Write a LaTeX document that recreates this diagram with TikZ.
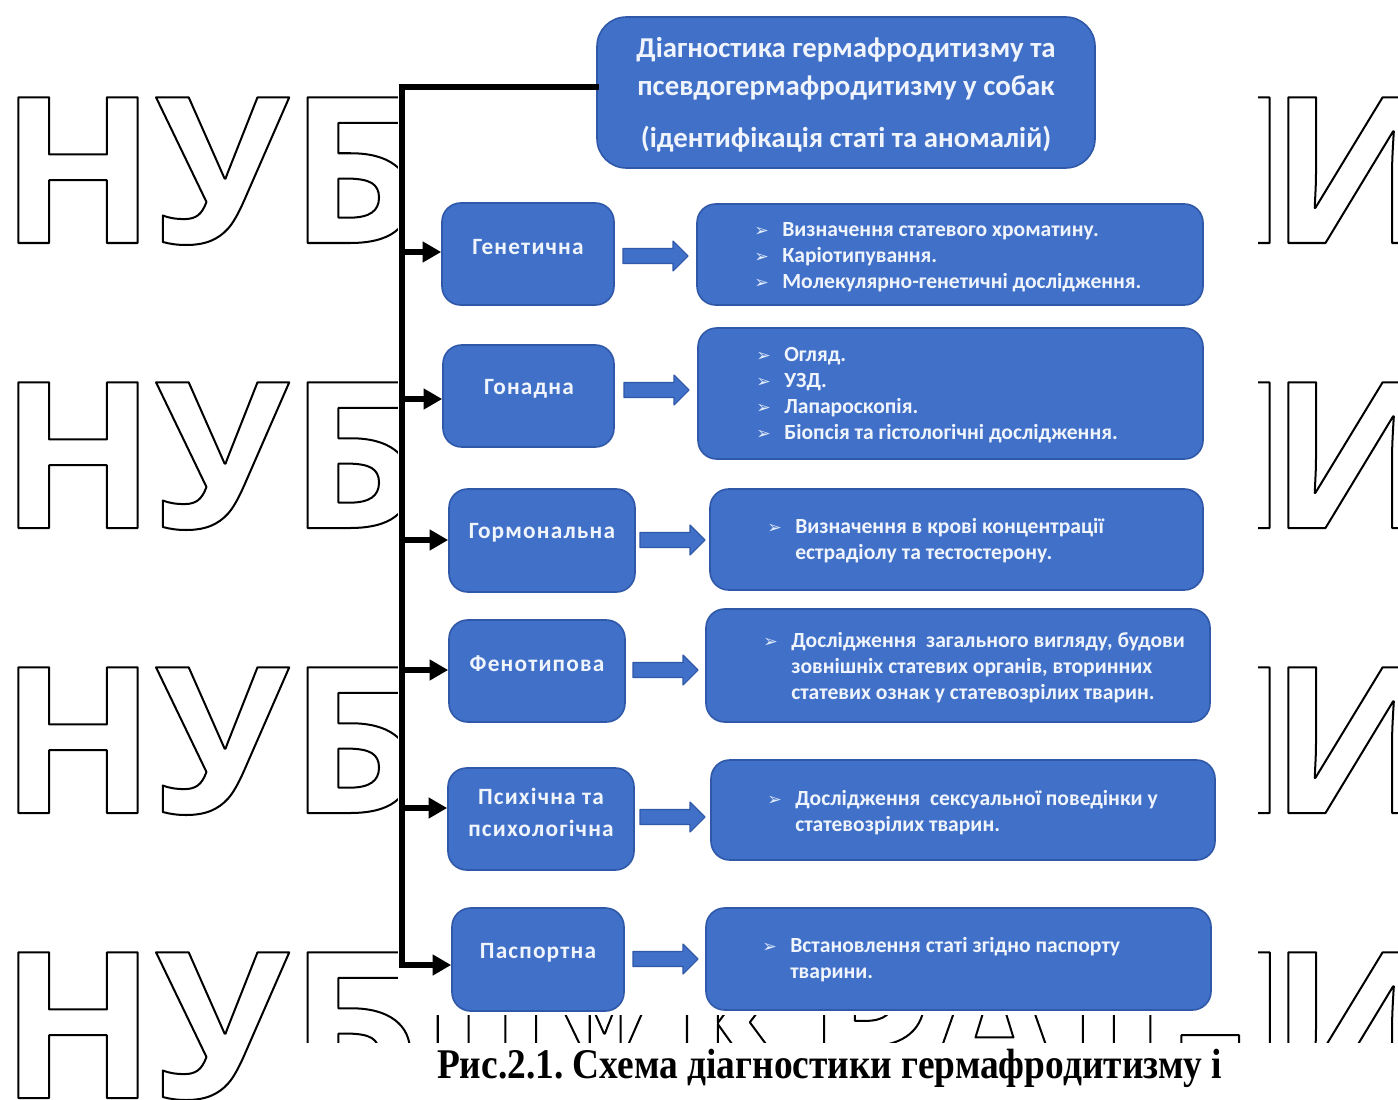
\documentclass[tikz,border=0pt]{standalone}
\usepackage{fontspec}
\usepackage{graphicx}
\setmainfont{Carlito}
\newfontfamily\wmfont{Open Sans}
\newfontfamily\capfont{Liberation Serif}
\newfontfamily\dejavu{DejaVu Sans}
\usetikzlibrary{arrows.meta,fit}
\definecolor{boxblue}{RGB}{64,112,200}
\definecolor{boxedge}{RGB}{48,88,168}
\definecolor{txtw}{RGB}{240,244,252}
\definecolor{bulc}{RGB}{225,235,250}
\frenchspacing
\newcommand\outlinetext[1]{\special{pdf:literal direct 1 Tr 1.5 w 1 j}#1\special{pdf:literal direct 0 Tr}}
\newcommand\wm[1]{{\wmfont\bfseries\fontsize{153}{153}\selectfont\outlinetext{#1}}}
\newcommand\bul{\makebox[0pt][r]{{\dejavu\fontsize{13}{13}\selectfont\color{bulc}➢}\hspace{10pt}}}
\tikzset{
  wmw/.style={anchor=base west,inner sep=0pt,outer sep=0pt},
  wme/.style={anchor=base east,inner sep=0pt,outer sep=0pt},
  bbox/.style={fill=boxblue,draw=boxedge,line width=1.2pt,rounded corners=14pt,inner sep=0pt},
  cattxt/.style={text=txtw,font=\fontsize{17.5}{21}\selectfont\bfseries\addfontfeature{LetterSpace=5},align=center,inner sep=0pt},
  ttltxt/.style={text=txtw,font=\fontsize{21.6}{25}\selectfont\bfseries,inner sep=0pt},
  ln/.style={text=txtw,font=\fontsize{16.2}{19}\selectfont\bfseries,anchor=base west,inner sep=0pt},
  blk/.style={line width=4.5pt,-{Triangle[length=14pt,width=15pt]}},
  trunk/.style={line width=4.5pt},
  barrow/.style={fill=boxblue,draw=boxedge,line width=0.8pt,line join=round},
}
\newcommand\barr[2]{\filldraw[barrow] (#1,#2) ++(0,-7.5) -- ++(50,0) -- ++(0,-7.5) -- ++(15,15) -- ++(-15,15) -- ++(0,-7.5) -- ++(-50,0) -- cycle;}
\begin{document}
\begin{tikzpicture}[x=0.75pt,y=-0.75pt]
\useasboundingbox (0,0) rectangle (1398,1099);
\fill[white] (0,0) rectangle (1398,1099);
% watermark (outlined letters)
\foreach \b [count=\i] in {243,528,813}{
  \node[wmw] (wmL\i) at (0,\b) {\wm{НУБ}};
  \node[wme] (wmN\i) at (1288,\b) {\wm{Н}};
  \node[wmw] (wmI\i) at (1270,\b) {\wm{И}};
}
\node[wmw] (wmL4) at (0,1098) {\wm{НУБІП}};
\node[wme] (wmR4) at (1288,1098) {\wm{УКРАЇН}};
\node[wmw] (wmI4) at (1270,1098) {\wm{И}};
\fill[white] (398,0) rectangle (1258,1015);
\fill[white] (265,1043) rectangle (1410,1110);
% title
\node[bbox,rounded corners=22pt,fit={(597,17)(1095,168)}] (title) {};
\node[ttltxt] (tl1) at (846,50) {Діагностика гермафродитизму та};
\node[ttltxt] (tl2) at (846,88) {псевдогермафродитизму у собак};
\node[ttltxt] (tl3) at (846,139) {(ідентифікація статі та аномалій)};
% category boxes
\node[bbox,fit={(442,203)(614,305)}] (c1) {};
\node[bbox,fit={(443,345)(614,447)}] (c2) {};
\node[bbox,fit={(449,489)(635,592)}] (c3) {};
\node[bbox,fit={(449,620)(625,722)}] (c4) {};
\node[bbox,fit={(448,768)(634,870)}] (c5) {};
\node[bbox,fit={(452,908)(624,1011)}] (c6) {};
\node[cattxt] (c1t) at (528,247) {Генетична};
\node[cattxt] (c2t) at (529,389) {Гонадна};
\node[cattxt] (c3t) at (542,533) {Гормональна};
\node[cattxt] (c4t) at (537,664) {Фенотипова};
\node[cattxt] (c5t) at (541,796) {Психічна та};
\node[cattxt] (c5u) at (541,828) {психологічна};
\node[cattxt] (c6t) at (538,953) {Паспортна};
% detail boxes
\node[bbox,fit={(697,204)(1203,305)}] (r1) {};
\node[bbox,fit={(698,328)(1203,459)}] (r2) {};
\node[bbox,fit={(710,489)(1203,590)}] (r3) {};
\node[bbox,fit={(706,609)(1210,722)}] (r4) {};
\node[bbox,fit={(711,760)(1215,860)}] (r5) {};
\node[bbox,fit={(706,908)(1211,1010)}] (r6) {};
\node[ln] (r1a) at (782,236) {\bul Визначення статевого хроматину.};
\node[ln] (r1b) at (782,262) {\bul Каріотипування.};
\node[ln] (r1c) at (782,288) {\bul Молекулярно-генетичні дослідження.};
\node[ln] (r2a) at (784,361) {\bul Огляд.};
\node[ln] (r2b) at (784,387) {\bul УЗД.};
\node[ln] (r2c) at (784,413) {\bul Лапароскопія.};
\node[ln] (r2d) at (784,439) {\bul Біопсія та гістологічні дослідження.};
\node[ln] (r3a) at (795,533) {\bul Визначення в крові концентрації};
\node[ln] (r3b) at (795,559) {естрадіолу та тестостерону.};
\node[ln] (r4a) at (791,647) {\bul Дослідження\ \ загального вигляду, будови};
\node[ln] (r4b) at (791,673) {зовнішніх статевих органів, вторинних};
\node[ln] (r4c) at (791,699) {статевих ознак у статевозрілих тварин.};
\node[ln] (r5a) at (795,805) {\bul Дослідження\ \ сексуальної поведінки у};
\node[ln] (r5b) at (795,831) {статевозрілих тварин.};
\node[ln] (r6a) at (790,952) {\bul Встановлення статі згідно паспорту};
\node[ln] (r6b) at (790,978) {тварини.};
% block arrows
\barr{623}{256}
\barr{624}{390}
\barr{640}{540}
\barr{633}{670}
\barr{640}{817}
\barr{633}{959}
% trunk
\coordinate (t0) at (402,87);
\coordinate (t1) at (402,252);
\coordinate (t2) at (402,399);
\coordinate (t3) at (402,540);
\coordinate (t4) at (402,670);
\coordinate (t5) at (402,808);
\coordinate (t6) at (402,965);
\draw[trunk,line cap=rect] (title.west |- t0) -- (t0) -- (t6);
\draw[blk] (t1) -- (t1 -| c1.west);
\draw[blk] (t2) -- (t2 -| c2.west);
\draw[blk] (t3) -- (t3 -| c3.west);
\draw[blk] (t4) -- (t4 -| c4.west);
\draw[blk] (t5) -- (t5 -| c5.west);
\draw[blk] (t6) -- (t6 -| c6.west);
% caption
\node[wmw] (cap) at (437,1078) {\resizebox{588.75pt}{22pt}{\capfont\bfseries Рис.2.1. Схема діагностики гермафродитизму і}};
\end{tikzpicture}
\end{document}
